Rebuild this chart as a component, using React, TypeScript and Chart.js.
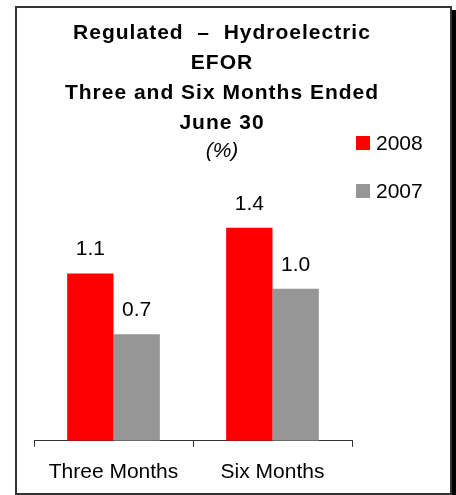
import React, { useEffect, useRef } from "react";
import { Chart, registerables } from "chart.js";

Chart.register(...registerables);

const categories = ["Three Months", "Six Months"];
const seriesLabels = ["2008", "2007"];
const values2008 = [1.1, 1.4];
const values2007 = [0.7, 1.0];
const seriesColors = ["#FF0000", "#969696"];
const titleLines = ["Regulated  –  Hydroelectric", "EFOR", "Three and Six Months Ended", "June 30"];
const subtitleText = "(%)";

const FONT = "'Liberation Sans', Arial, sans-serif";

const framePlugin = {
  id: "frame",
  beforeDraw(chart: any) {
    const ctx = chart.ctx;
    ctx.save();
    ctx.fillStyle = "#ffffff";
    ctx.fillRect(0, 0, chart.width, chart.height);
    ctx.fillStyle = "#000000";
    ctx.fillRect(452, 10, 4, 485);
    ctx.strokeStyle = "#333333";
    ctx.lineWidth = 2;
    ctx.strokeRect(16, 7, 435, 487);
    ctx.restore();
  },
};

const decorPlugin = {
  id: "decor",
  afterDraw(chart: any) {
    const ctx = chart.ctx;
    ctx.save();
    // title
    ctx.fillStyle = "#000000";
    ctx.textAlign = "center";
    ctx.textBaseline = "alphabetic";
    ctx.font = `bold 21px ${FONT}`;
    try { (ctx as any).letterSpacing = "1px"; } catch (e) {}
    titleLines.forEach((line, i) => {
      ctx.fillText(line, 222, 39 + i * 30);
    });
    try { (ctx as any).letterSpacing = "0px"; } catch (e) {}
    ctx.font = `italic 21px ${FONT}`;
    ctx.fillText(subtitleText, 222, 157);

    // legend
    ctx.textAlign = "left";
    ctx.font = `21px ${FONT}`;
    const legendY = [150, 198];
    chart.data.datasets.forEach((ds: any, i: number) => {
      ctx.fillStyle = ds.backgroundColor;
      ctx.fillRect(356, legendY[i] - 14, 14, 14);
      ctx.fillStyle = "#000000";
      ctx.fillText(ds.label, 376, legendY[i]);
    });

    // data labels
    ctx.textAlign = "center";
    chart.data.datasets.forEach((ds: any, i: number) => {
      const meta = chart.getDatasetMeta(i);
      meta.data.forEach((bar: any, j: number) => {
        ctx.fillText(Number(ds.data[j]).toFixed(1), bar.x, bar.y - 18);
      });
    });
    ctx.restore();
  },
};

export default function App() {
  const ref = useRef<HTMLCanvasElement | null>(null);
  useEffect(() => {
    if (!ref.current) return;
    const chart = new Chart(ref.current, {
      type: "bar",
      data: {
        labels: categories,
        datasets: [
          { label: seriesLabels[0], data: values2008, backgroundColor: seriesColors[0], borderWidth: 0 },
          { label: seriesLabels[1], data: values2007, backgroundColor: seriesColors[1], borderWidth: 0 },
        ],
      },
      options: {
        animation: false,
        responsive: false,
        devicePixelRatio: 1,
        layout: { padding: { left: 34, right: 104, top: 167, bottom: -3 } },
        plugins: { legend: { display: false }, title: { display: false }, tooltip: { enabled: false } },
        datasets: { bar: { categoryPercentage: 0.583, barPercentage: 1 } },
        scales: {
          x: {
            offset: true,
            grid: { display: true, drawOnChartArea: false, drawTicks: true, tickLength: 6, color: "#333333", lineWidth: 1 },
            border: { display: true, color: "#333333", width: 1 },
            ticks: { color: "#000000", padding: 13, font: { size: 21, family: FONT } },
          },
          y: { display: false, min: 0, max: 1.8 },
        },
      },
      plugins: [framePlugin, decorPlugin],
    });
    return () => chart.destroy();
  }, []);
  return (
    <canvas
      ref={ref}
      width={456}
      height={495}
      style={{ position: "fixed", left: 0, top: 0, width: 456, height: 495 }}
    />
  );
}
